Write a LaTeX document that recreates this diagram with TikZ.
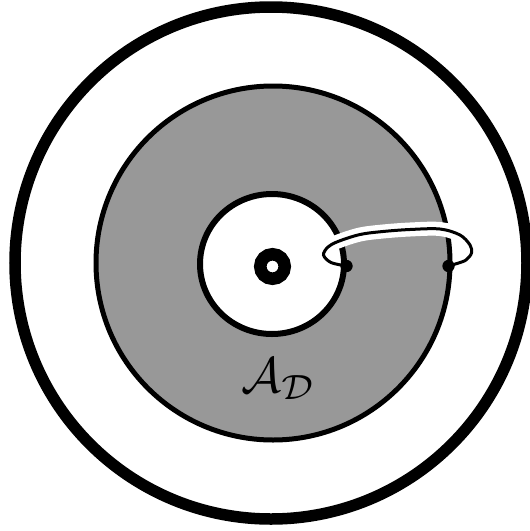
\documentclass[tikz,border=0pt]{standalone}
\definecolor{diskgray}{RGB}{152,152,152}
\tikzset{
  outerring/.style={draw=black, line width=11.5pt},
  graydisk/.style={draw=black, fill=diskgray, line width=5pt},
  innerdisk/.style={draw=black, fill=white, line width=6pt},
  centerring/.style={draw=black, line width=12.5pt},
  halo/.style={draw=white, line width=14pt},
  loopline/.style={draw=black, line width=3pt},
  dotnode/.style={circle, fill=black, inner sep=0pt, minimum size=12pt},
  labelnode/.style={inner sep=0pt, anchor=base, scale=5}
}
\begin{document}
\begin{tikzpicture}[x=1pt,y=-1pt]
\useasboundingbox (0,0) rectangle (530,531);
\draw[outerring] (271,263) circle (256);
\path[graydisk] (273,263) circle (177);
\path[innerdisk] (272,264) ellipse (72 and 70);
\draw[centerring] (272.5,266.5) circle (12.25);
\node[dotnode] (Ld) at (346.5,266) {};
\node[dotnode] (Rd) at (448.5,266) {};
\draw[halo] plot[smooth, tension=0.55] coordinates {(323.5,255) (328,247) (338,241.5) (360,234.5) (383,231.5) (410,229.5) (440,229) (460,235) (470,245)};
\draw[loopline] plot[smooth, tension=0.55] coordinates {(Ld.center) (331,262.5) (323.5,255) (328,247) (338,241.5) (360,234.5) (383,231.5) (410,229.5) (440,229) (460,235) (470,245) (471.5,253) (466,260) (457,263.5) (Rd.center)};
\node[dotnode] at (Ld.center) {};
\node[dotnode] at (Rd.center) {};
\node[labelnode] (lab) at (279,392) {$\mathcal{A}_{\mathcal{D}}$};
\end{tikzpicture}
\end{document}
